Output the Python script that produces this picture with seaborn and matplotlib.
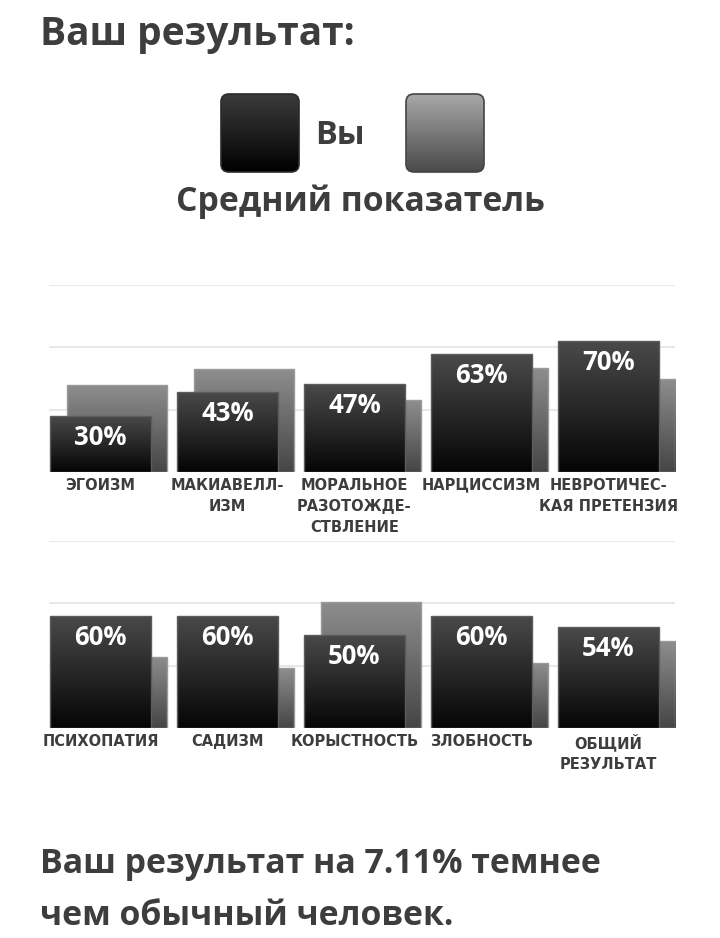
import numpy as np
import pandas as pd
import matplotlib
matplotlib.use('Agg')
import matplotlib.pyplot as plt
import seaborn as sns
from matplotlib.colors import LinearSegmentedColormap
from matplotlib.patches import FancyBboxPatch

# data
cats1 = ['ЭГОИЗМ', 'МАКИАВЕЛЛ-\nИЗМ', 'МОРАЛЬНОЕ\nРАЗОТОЖДЕ-\nСТВЛЕНИЕ', 'НАРЦИССИЗМ', 'НЕВРОТИЧЕС-\nКАЯ ПРЕТЕНЗИЯ']
you1 = [30, 43, 47, 63, 70]
avg1 = [46.5, 55, 38.5, 55.5, 50]

cats2 = ['ПСИХОПАТИЯ', 'САДИЗМ', 'КОРЫСТНОСТЬ', 'ЗЛОБНОСТЬ', 'ОБЩИЙ\nРЕЗУЛЬТАТ']
you2 = [60, 60, 50, 60, 54]
avg2 = [38, 32, 67.5, 35, 46.5]

title = 'Ваш результат:'
legend_you = 'Вы'
legend_avg = 'Средний показатель'
footer = ['Ваш результат на 7.11% темнее', 'чем обычный человек.']

sns.set_style('white')
plt.rcParams['font.family'] = ['Open Sans', 'DejaVu Sans']

TXT = '#3d3d3d'
W, H = 720, 938
fig = plt.figure(figsize=(7.2, 9.38), dpi=100)
fig.patch.set_facecolor('white')

# overlay in pixel coords for texts / legend
bg = fig.add_axes([0, 0, 1, 1], zorder=0)
bg.set_xlim(0, W)
bg.set_ylim(0, H)
bg.axis('off')
bg.patch.set_visible(False)


def Y(py):
    return H - py


def gradient(ax, x0, x1, y0, y1, top, bottom, z, clip=None):
    cmap = LinearSegmentedColormap.from_list('g', [bottom, top])
    grad = np.linspace(0, 1, 256).reshape(-1, 1)
    im = ax.imshow(grad, extent=[x0, x1, y0, y1], origin='lower', cmap=cmap,
                   aspect='auto', zorder=z, interpolation='bicubic')
    if clip is not None:
        im.set_clip_path(clip)
    return im


bg.text(40, Y(45), title, fontsize=28, fontweight='bold', color=TXT, va='baseline')

# legend squares
for x0, top, bottom, edge in [(221, '#3c3c3c', '#000000', '#2a2a2a'),
                              (406, '#a8a8a8', '#4a4a4a', '#444444')]:
    box = FancyBboxPatch((x0 + 8, Y(172) + 8), 78 - 16, 78 - 16,
                         boxstyle='round,pad=8', facecolor='none',
                         edgecolor=edge, linewidth=1.2, zorder=2)
    bg.add_patch(box)
    gradient(bg, x0, x0 + 78, Y(172), Y(94), top, bottom, 1, clip=box)
bg.text(315, Y(144), legend_you, fontsize=23.5, fontweight='bold', color=TXT, va='baseline')
bg.text(360, Y(211), legend_avg, fontsize=24.3, fontweight='bold', color=TXT,
        va='baseline', ha='center')

bg.text(40, Y(873), footer[0], fontsize=24.4, fontweight='bold', color=TXT, va='baseline')
bg.text(40, Y(925), footer[1], fontsize=24.4, fontweight='bold', color=TXT, va='baseline')
bg.set_xlim(0, W)
bg.set_ylim(0, H)

# bar panels
off = 0.065
bw = 0.79
xlo, xhi = -0.47, 4.46
ax_left = 49 / W
ax_w = (xhi - xlo) * 127 / W


def panel(base_py, cats, you, avg):
    ax = fig.add_axes([ax_left, 1 - base_py / H, ax_w, 187 / H], zorder=1)
    ax.set_facecolor('none')
    df = pd.DataFrame({'cat': cats, 'you': you, 'avg': avg})

    sns.barplot(data=df, x='cat', y='avg', ax=ax, width=bw, color='#777777', zorder=2)
    avg_bars = list(ax.containers[-1])
    sns.barplot(data=df, x='cat', y='you', ax=ax, width=bw, color='#222222', zorder=3)
    you_bars = list(ax.containers[-1])

    for p in avg_bars:
        p.set_x(p.get_x() + off)
        p.set_facecolor('none')
        p.set_edgecolor('#9a9a9a')
        p.set_linewidth(1)
        p.set_zorder(2.1)
        gradient(ax, p.get_x(), p.get_x() + p.get_width(), 0, p.get_height(),
                 '#8e8e8e', '#454545', 2, clip=p)
    for p, v in zip(you_bars, you):
        p.set_x(p.get_x() - off)
        p.set_facecolor('none')
        p.set_edgecolor('#5c5c5c')
        p.set_linewidth(1)
        p.set_zorder(3.1)
        gradient(ax, p.get_x(), p.get_x() + p.get_width(), 0, p.get_height(),
                 '#4a4a4a', '#050505', 3, clip=p)
        ax.annotate(f'{v}%', (p.get_x() + p.get_width() / 2, p.get_height()),
                    xytext=(0, -21), textcoords='offset points', ha='center',
                    va='baseline', color='white', fontsize=18.5, fontweight='bold',
                    zorder=4)

    ax.set_xlim(xlo, xhi)
    ax.set_ylim(0, 100)
    for g in [100 / 3, 200 / 3, 100]:
        ax.axhline(g, color='#e8e8e8', linewidth=1.5, zorder=1)
    ax.set_yticks([])
    ax.set_ylabel('')
    ax.set_xlabel('')
    ax.set_xticks(np.arange(len(cats)) - off)
    ax.set_xticklabels(cats, fontsize=10.5, fontweight='bold', color=TXT,
                       family=['Liberation Sans Narrow', 'DejaVu Sans'],
                       linespacing=1.5)
    ax.tick_params(axis='x', length=0, pad=4)
    sns.despine(ax=ax, left=True, bottom=True)
    return ax


panel(472, cats1, you1, avg1)
panel(728, cats2, you2, avg2)

fig.savefig('out.png', dpi=100)
